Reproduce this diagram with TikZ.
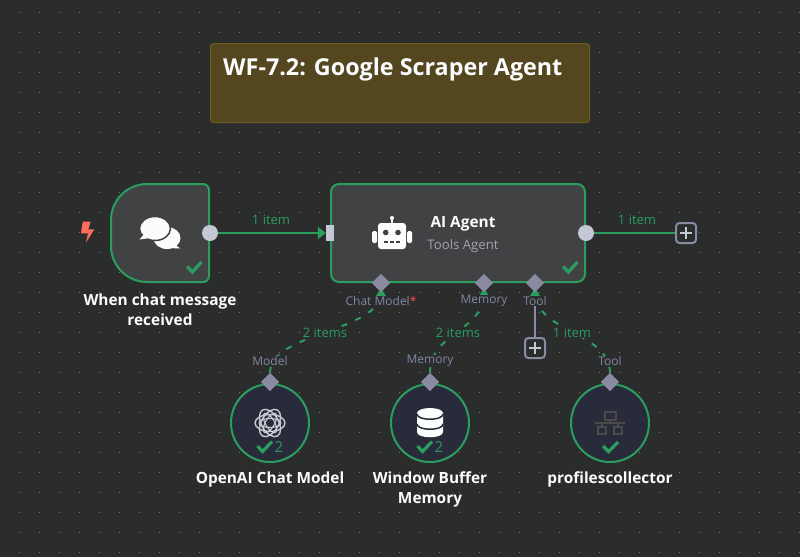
\documentclass[tikz,border=0pt]{standalone}
\usepackage{fontspec}
\setmainfont{Open Sans}
\usetikzlibrary{arrows.meta,shapes.geometric}
\definecolor{bgc}{HTML}{2B2C2C}
\definecolor{dotc}{HTML}{7A7A7A}
\definecolor{nodec}{HTML}{414244}
\definecolor{subc}{HTML}{2A2B3A}
\definecolor{grn}{HTML}{2A9D5F}
\definecolor{port}{HTML}{C4C8D4}
\definecolor{dia}{HTML}{8A8AA0}
\definecolor{lab}{HTML}{8585A5}
\definecolor{stick}{HTML}{54461F}
\definecolor{stickb}{HTML}{6E5C25}
\definecolor{wht}{HTML}{FBFCFE}
\definecolor{netc}{HTML}{4A4A4A}
\definecolor{boltc}{HTML}{FF6D5A}
\definecolor{logoc}{HTML}{C8C8D0}
\tikzset{
 nodebox/.style={draw=grn,line width=2pt,fill=nodec},
 outport/.style={circle,fill=port,inner sep=0pt,minimum size=16pt},
 inport/.style={rectangle,fill=port,inner sep=0pt,minimum width=8pt,minimum height=16pt},
 subport/.style={diamond,fill=dia,inner sep=0pt,minimum size=18pt},
 subnode/.style={circle,draw=grn,line width=2pt,fill=subc,inner sep=0pt,minimum size=78pt},
 plusbox/.style={rectangle,rounded corners=3.5pt,draw=dia,line width=2pt,inner sep=0pt,minimum size=20pt,fill=bgc},
 itemlab/.style={text=grn,font=\fontsize{13}{15}\selectfont,fill=bgc,inner sep=0.5pt},
 portlab/.style={text=lab,font=\fontsize{12}{15}\selectfont,fill=bgc,inner sep=0.5pt},
 title/.style={text=wht,align=center,font=\fontsize{15.4}{20}\selectfont\bfseries},
 link/.style={draw=grn,line width=2pt},
 dlink/.style={draw=grn,line width=2pt,dash pattern=on 6pt off 9pt},
 glink/.style={draw=dia,line width=2pt},
 tick/.style={draw=grn,line width=3.2pt,line cap=butt,line join=miter},
 plussign/.style={draw=port,line width=1.6pt},
}
\begin{document}
\begin{tikzpicture}[x=1pt,y=-1pt]
\useasboundingbox (0,0) rectangle (800,557);
\fill[bgc] (0,0) rectangle (800,557);
\foreach \i in {0,...,39}{\foreach \j in {0,...,27}{
  \fill[dotc] ({19+20*\i-0.5},{12+20*\j-0.5}) rectangle ++(1,1);}}
% sticky
\node[rectangle,rounded corners=3pt,draw=stickb,fill=stick,line width=1pt,inner sep=0pt,minimum width=379pt,minimum height=79pt] (sticky) at (400,83) {};
\node[anchor=west,text=wht,inner sep=0pt,font=\fontsize{23.3}{26}\selectfont\bfseries] (stitle) at (223,69) {WF-7.2: Google Scraper Agent};
% main nodes
\draw[nodebox] (147,184) -- (203,184) .. controls (206.3,184) and (209,186.7) .. (209,190) -- (209,276) .. controls (209,279.3) and (206.3,282) .. (203,282) -- (147,282) .. controls (127.1,282) and (111,265.9) .. (111,246) -- (111,220) .. controls (111,200.1) and (127.1,184) .. (147,184) -- cycle;
\node[rectangle,rounded corners=8pt,nodebox,inner sep=0pt,minimum width=254pt,minimum height=98pt] (agent) at (458,233) {};
% sub nodes
\node[subnode] (model) at (270,423) {};
\node[subnode] (mem) at (430,423) {};
\node[subnode] (tool) at (610,423) {};
% ports
\node[outport] (trigout) at (210,233) {};
\node[inport] (agentin) at (330,233) {};
\node[outport] (agentout) at (586,233) {};
\node[plusbox] (plusa) at (686,233) {};
\node[plusbox] (plusb) at (535,348) {};
\node[subport] (pmodel) at (381,283) {};
\node[subport] (pmem) at (484,283) {};
\node[subport] (ptool) at (535,283) {};
\node[subport] (qmodel) at (270,382) {};
\node[subport] (qmem) at (430,382) {};
\node[subport] (qtool) at (610,382) {};
% connectors
\draw[link,-{Triangle[length=8pt,width=12pt]}] (trigout) -- (agentin);
\draw[link] (agentout) -- (plusa);
\draw[dlink] (qmodel.north) .. controls (270,332) and (381,332) .. (pmodel.south);
\draw[dlink] (qmem.north) .. controls (430,332) and (484,332) .. (pmem.south);
\draw[dlink] (qtool.north) .. controls (610,332) and (535,332) .. (ptool.south);
\draw[glink] (ptool.south) -- (plusb);
\foreach \x in {381,484,535}{\fill[grn] (\x-5,296) -- (\x,288) -- (\x+5,296) -- cycle;}
\node[subport] at (381,283) {};
\node[subport] at (484,283) {};
\node[subport] at (535,283) {};
\node[subport] at (270,382) {};
\node[subport] at (430,382) {};
\node[subport] at (610,382) {};
% plus signs
\draw[plussign] (686,227) -- (686,239) (680,233) -- (692,233);
\draw[plussign] (535,342) -- (535,354) (529,348) -- (541,348);
% labels
\node[itemlab] (l1) at (271,219.5) {1 item};
\node[itemlab] (l2) at (637,219.5) {1 item};
\node[itemlab] (l3) at (325,332.5) {2 items};
\node[itemlab] (l4) at (458,332.5) {2 items};
\node[itemlab] (l5) at (572,332.5) {1 item};
\node[portlab] (c1) at (381,301) {Chat Model\textcolor[HTML]{FF4D5E}{*}};
\node[portlab] (c2) at (484,301) {Memory};
\node[portlab] (c3) at (535,301) {Tool};
\node[portlab] (c4) at (270,361) {Model};
\node[portlab] (c5) at (430,361) {Memory};
\node[portlab] (c6) at (610,361) {Tool};
% titles
\node[title] (t1) at (160,309.5) {When chat message\\[0pt]received};
\node[title] (t2) at (270,479.5) {OpenAI Chat Model};
\node[title] (t3) at (430,489.5) {Window Buffer\\[0pt]Memory};
\node[title] (t4) at (610,479.5) {profilescollector};
\node[text=wht,font=\fontsize{15.4}{18}\selectfont\bfseries,inner sep=0pt] (a1) at (463,223.5) {AI Agent};
\node[text=dia!80!white,font=\fontsize{13.2}{15}\selectfont,inner sep=0pt] (a2) at (463,246) {Tools Agent};
% bolt
\fill[boltc] (82.7,221.7) -- (90.7,221.7) -- (88.3,229.3) -- (94.3,229.3) -- (86,242.7) -- (88,233.3) -- (81,233.3) -- cycle;
% chat icon
\fill[wht] (167,238) ellipse [x radius=13.5,y radius=11];
\fill[wht] (172,243) -- (180.5,248.5) -- (168,248) -- cycle;
\fill[wht,draw=nodec,line width=1.5pt] (155,228.5) ellipse [x radius=15.5,y radius=12];
\fill[wht] (145,233) -- (139.5,239.5) -- (150,238) -- cycle;
% robot icon
\fill[wht,rounded corners=3pt] (378,223) rectangle (406,249);
\fill[wht] (392,218) circle (2);
\fill[wht] (391,218) rectangle (393,224);
\fill[wht,rounded corners=1.5pt] (372,231) rectangle (377,243);
\fill[wht,rounded corners=1.5pt] (407,231) rectangle (412,243);
\fill[nodec] (385.7,232.5) circle (2.8) (398,232.5) circle (2.8);
\foreach \x in {384,390,396}{\fill[nodec] (\x,241) rectangle ++(4,2);}
% check marks
\draw[tick] (187,266.5) -- (192.5,272) -- (201.5,262);
\draw[tick] (563,266.5) -- (568.5,272) -- (577.5,262);
\draw[tick] (257.5,446) -- (262.5,451.5) -- (272,441.5);
\draw[tick] (417.5,446) -- (422.5,451.5) -- (432,441.5);
\draw[tick] (603,446) -- (608.5,451.5) -- (618,442);
\node[text=grn,font=\fontsize{15}{17}\selectfont,inner sep=0pt] (n1) at (279,447) {2};
\node[text=grn,font=\fontsize{15}{17}\selectfont,inner sep=0pt] (n2) at (439,447) {2};
% openai icon: three interlaced loops
\foreach \a in {0,60,120}{
 \draw[logoc,line width=1.4pt,rotate around={\a:(270,423)}] (270,423) ellipse [x radius=15,y radius=8.5];
 \draw[logoc,line width=1.1pt,rotate around={\a:(270,423)}] (270,423) ellipse [x radius=11,y radius=4.5];}
% database icon
\fill[wht] (417,413) -- (417,432) .. controls (417,439) and (443,439) .. (443,432) -- (443,413) -- cycle;
\fill[wht] (430,413) ellipse [x radius=13,y radius=5];
\draw[subc,line width=1.5pt] (417,414) .. controls (417,421) and (443,421) .. (443,414);
\draw[subc,line width=1.5pt] (417,424) .. controls (417,431) and (443,431) .. (443,424);
% network icon
\draw[netc,line width=2pt] (604.5,412) rectangle (615.5,420) (610,420) -- (610,423) (595,423) -- (625,423) (602,423) -- (602,427) (618,423) -- (618,427) (598,427) rectangle (606,434) (614,427) rectangle (622,434);
\end{tikzpicture}
\end{document}
